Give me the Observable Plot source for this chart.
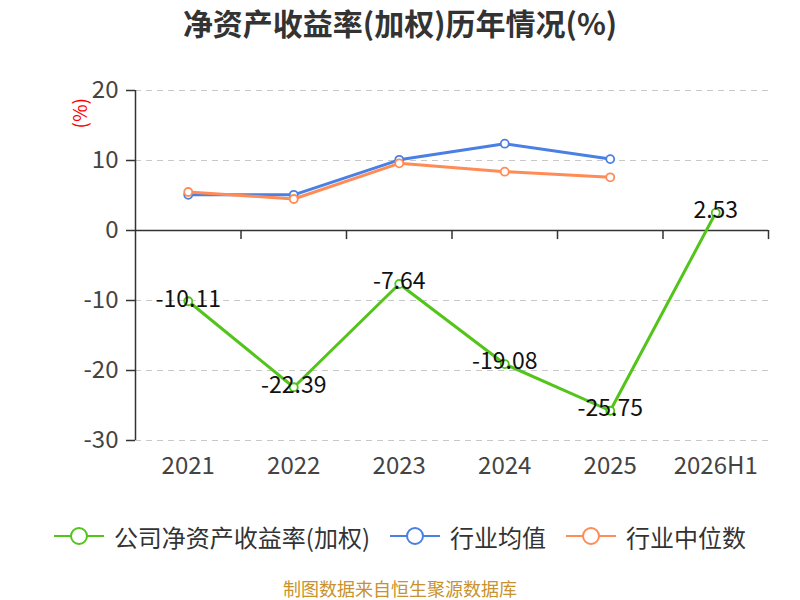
<!DOCTYPE html>
<html><head><meta charset="utf-8">
<script src="https://cdn.jsdelivr.net/npm/d3@7"></script>
<script src="https://cdn.jsdelivr.net/npm/@observablehq/plot@0.6"></script>
<style>
body{margin:0;background:#fff;font-family:"Noto Sans CJK SC",sans-serif;}
#wrap{width:800px;height:600px;overflow:hidden;}
.title{height:45px;line-height:45px;text-align:center;font-size:30px;font-weight:bold;color:#333;}
.legend{height:72px;display:flex;justify-content:center;align-items:center;font-size:24px;color:#333;}
.item{display:flex;align-items:center;margin:0 10px;}
.item svg{margin-right:10px;}
.caption{text-align:center;font-size:18px;color:#c8922e;height:24px;line-height:24px;padding-top:4px;}
</style></head><body>
<div id="wrap">
<div class="title">净资产收益率(加权)历年情况(%)</div>
<div id="chart"></div>
<div class="legend" id="legend"></div>
<div class="caption">制图数据来自恒生聚源数据库</div>
</div>
<script>
const years = ["2021","2022","2023","2024","2025","2026H1"];
const company = [-10.11,-22.39,-7.64,-19.08,-25.75,2.53];
const industryMean = [5.1,5.1,10.1,12.4,10.2,null];
const industryMedian = [5.5,4.5,9.6,8.4,7.6,null];
const yTicks = [-30,-20,-10,0,10,20];
const gridTicks = [-30,-20,-10,10,20];
const seriesNames = ["公司净资产收益率(加权)","行业均值","行业中位数"];
const colors = ["#52c41a","#4a7fe3","#ff8b57"];

const idx = years.map((_, i) => i);
const boundaries = years.map((_, i) => i - 0.5).concat([years.length - 0.5]);
const rowsC = idx.map(i => ({i, v: company[i]}));
const rowsM = idx.filter(i => industryMean[i] != null).map(i => ({i, v: industryMean[i]}));
const rowsD = idx.filter(i => industryMedian[i] != null).map(i => ({i, v: industryMedian[i]}));

const font = '"Noto Sans CJK SC", sans-serif';
const chart = Plot.plot({
  width: 800, height: 455,
  marginTop: 45, marginBottom: 60, marginLeft: 135, marginRight: 32,
  style: {fontFamily: font, background: "#fff"},
  x: {type: "linear", domain: [-0.5, years.length - 0.5]},
  y: {domain: [-30, 20]},
  marks: [
    Plot.ruleY(gridTicks, {stroke: "#c8c8c8", strokeWidth: 1.2, strokeDasharray: "6,5"}),
    Plot.ruleX([-0.5], {stroke: "#333", strokeWidth: 1.5}),
    Plot.ruleY([0], {stroke: "#333", strokeWidth: 1.5}),
    Plot.ruleX(boundaries.slice(1), {y1: 0, y2: -1.3, stroke: "#333", strokeWidth: 1.5}),
    Plot.axisY({ticks: yTicks, tickSize: 9, tickPadding: 8, fontSize: 24, color: "#444", stroke: "#333", strokeWidth: 1.5, label: null, tickFormat: d => String(d)}),
    Plot.axisX({ticks: idx, tickSize: 0, tickPadding: 16, fontSize: 24, color: "#444", label: null, tickFormat: i => years[i]}),
    Plot.text(["(%)"], {frameAnchor: "top-left", dx: -62, dy: 38, rotate: -90, fill: "red", fontSize: 19}),
    Plot.line(rowsM, {x: "i", y: "v", stroke: colors[1], strokeWidth: 3}),
    Plot.dot(rowsM, {x: "i", y: "v", r: 4, fill: "#fff", stroke: colors[1], strokeWidth: 1.8}),
    Plot.line(rowsD, {x: "i", y: "v", stroke: colors[2], strokeWidth: 3}),
    Plot.dot(rowsD, {x: "i", y: "v", r: 4, fill: "#fff", stroke: colors[2], strokeWidth: 1.8}),
    Plot.line(rowsC, {x: "i", y: "v", stroke: colors[0], strokeWidth: 3}),
    Plot.dot(rowsC, {x: "i", y: "v", r: 4, fill: "#fff", stroke: colors[0], strokeWidth: 1.8}),
    Plot.text(rowsC, {x: "i", y: "v", text: d => d.v.toFixed(2), fill: "#111", fontSize: 23, dy: -2})
  ]
});
document.getElementById("chart").appendChild(chart);

const legend = document.getElementById("legend");
seriesNames.forEach((name, k) => {
  const item = document.createElement("div");
  item.className = "item";
  item.innerHTML = `<svg width="50" height="22"><line x1="0" y1="11" x2="50" y2="11" stroke="${colors[k]}" stroke-width="2"/><circle cx="25" cy="11" r="8" fill="#fff" stroke="${colors[k]}" stroke-width="2"/></svg><span>${name}</span>`;
  legend.appendChild(item);
});
</script>
</body></html>
